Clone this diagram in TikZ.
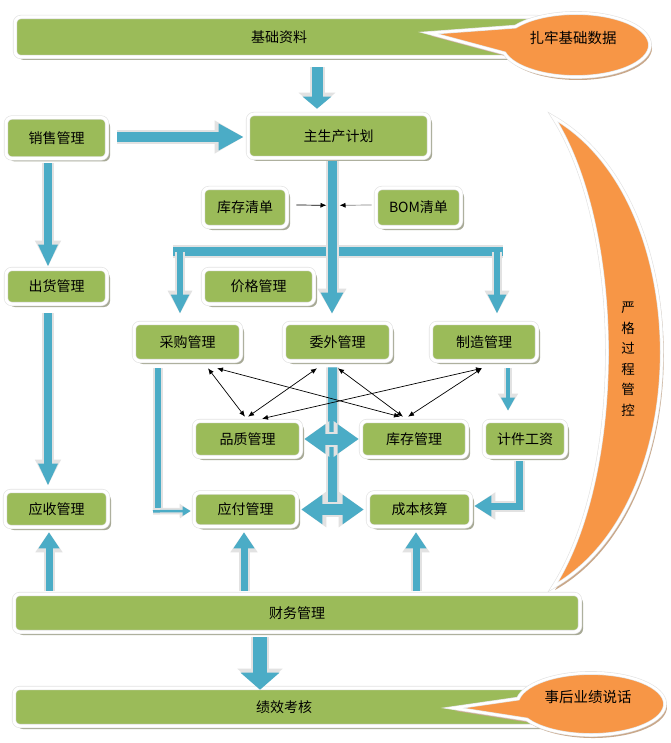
\documentclass[tikz,border=0pt]{standalone}
\usepackage{fontspec}
\newfontfamily\cjk{Noto Sans CJK SC}
\usetikzlibrary{arrows.meta,shadows,calc}
\definecolor{boxgreen}{HTML}{9BBB59}
\definecolor{arrblue}{HTML}{4BACC6}
\definecolor{bubor}{HTML}{F79646}
\definecolor{edgegray}{HTML}{E2E2E2}
\definecolor{boxshadow}{HTML}{A7A995}
\definecolor{tanshadow}{HTML}{C9A88A}
\tikzset{
  box/.style={rounded corners=6pt, fill=boxgreen, draw=edgegray, double=white, double distance=3pt, line width=0.6pt, inner sep=0pt, font=\cjk\fontsize{14}{16}\selectfont, text=black, drop shadow={shadow xshift=3pt, shadow yshift=-3pt, fill=boxshadow, opacity=1}},
  bubble/.style={fill=bubor, draw=edgegray, double=white, double distance=2.5pt, line width=0.6pt, drop shadow={shadow xshift=2pt, shadow yshift=-3pt, fill=tanshadow, opacity=1}},
  btext/.style={font=\cjk\fontsize{14.5}{16}\selectfont, text=black, inner sep=0pt},
  barr/.style n args={5}{draw=arrblue, line width=#1, -{Triangle[width=#2, length=#3]}, preaction={draw=edgegray, line width=#1+4pt, -{Triangle[width=#4, length=#5]}}},
  dbarr/.style n args={5}{draw=arrblue, line width=#1, {Triangle[width=#2, length=#3]}-{Triangle[width=#2, length=#3]}, preaction={draw=edgegray, line width=#1+4pt, {Triangle[width=#4, length=#5]}-{Triangle[width=#4, length=#5]}}},
  bbar/.style={draw=arrblue, line width=#1, preaction={draw=edgegray, line width=#1+4pt}},
  dblthin/.style={draw=black, line width=0.7pt, {Latex[length=6pt,width=5pt]}-{Latex[length=6pt,width=5pt]}},
  sarr/.style={line width=0.7pt, -{Latex[length=6pt,width=5pt,color=black]}},
}
\begin{document}
\begin{tikzpicture}[x=1pt,y=-1pt]
\fill[white] (0,0) rectangle (670,743);
\useasboundingbox (0,0) rectangle (670,743);

% crescent
\path[bubble] (553,117) .. controls (698,200) and (698,505) .. (553,587) .. controls (625,475) and (625,230) .. (553,117) -- cycle;
\node[font=\cjk\fontsize{13.5}{20.5}\selectfont, align=center, inner sep=0pt] (ctl) at (628,359) {严\\格\\过\\程\\管\\控};

% boxes
\node[box, minimum width=528pt, minimum height=40pt] (jc) at (279,37) {基础资料};
\node[box, minimum width=181pt, minimum height=44pt] (zs) at (338.5,136) {主生产计划\hspace{35pt}};
\node[box, minimum width=101pt, minimum height=41pt] (xs) at (56.5,138) {销售管理\hspace{25pt}};
\node[box, minimum width=101pt, minimum height=35pt] (ch) at (56.5,286.5) {出货管理};
\node[box, minimum width=103pt, minimum height=36pt] (ys) at (56.5,509) {应收管理};
\node[box, minimum width=84pt, minimum height=39pt] (kcqd) at (245,207.5) {库存清单};
\node[box, minimum width=85pt, minimum height=39pt] (bom) at (418.5,207.5) {BOM清单};
\node[box, minimum width=111pt, minimum height=35pt] (jg) at (258.5,286.5) {价格管理};
\node[box, minimum width=107pt, minimum height=38pt] (cg) at (187.5,342) {采购管理};
\node[box, minimum width=107pt, minimum height=38pt] (ww) at (337.5,342) {委外管理};
\node[box, minimum width=106pt, minimum height=38pt] (zz) at (484,342) {制造管理};
\node[box, minimum width=107pt, minimum height=36pt] (pz) at (247.5,439) {品质管理};
\node[box, minimum width=106pt, minimum height=36pt] (kc) at (414,439) {库存管理};
\node[box, minimum width=82pt, minimum height=36pt] (jj) at (525,439) {计件工资};
\node[box, minimum width=103pt, minimum height=34pt] (yf) at (245.5,509.5) {应付管理};
\node[box, minimum width=103pt, minimum height=34pt] (cb) at (419.5,509.5) {成本核算};
\node[box, minimum width=566pt, minimum height=38pt] (cw) at (297,613) {财务管理\hspace{54pt}};
\node[box, minimum width=540pt, minimum height=38pt] (jx) at (284,707) {绩效考核\hspace{28pt}};

% callouts
\path[bubble] (576,45) ++(215:74 and 32) arc[start angle=215, end angle=525, x radius=74, y radius=32] -- (429,33) -- cycle;
\node[btext] (b1) at (573,38) {扎牢基础数据};
\path[bubble] (591,704) ++(190:74 and 31) arc[start angle=190, end angle=510, x radius=74, y radius=31] -- (453,708) -- cycle;
\node[btext] (b2) at (588,697) {事后业绩说话};

% block arrows
\draw[barr={11pt}{28pt}{12pt}{36pt}{16pt}] ($(jc.south)+(38,10)$) -- ($(zs.north)+(-21.5,-5)$);
\draw[barr={10pt}{25pt}{25pt}{31pt}{29pt}] ($(xs.east)+(10,-1)$) -- ($(zs.west)+(-4,1)$);
\draw[barr={8pt}{18pt}{22pt}{24pt}{26pt}] ($(xs.south)+(-8.5,4.5)$) -- ($(ch.north)+(-8.5,-2)$);
\draw[barr={8pt}{18pt}{22pt}{24pt}{26pt}] ($(ch.south)+(-8.5,9)$) -- ($(ys.north)+(-8.5,-5)$);

\coordinate (tl) at ($(cg.north)+(-7.5,-71)$);
\coordinate (tr) at ($(zz.north)+(13,-71)$);
\draw[bbar=9pt] ($(tl)+(-7,0)$) -- ($(tr)+(6,0)$);
\draw[barr={6pt}{17pt}{19pt}{23pt}{23pt}] (tl) -- ($(cg.north)+(-7.5,-9)$);
\draw[barr={6pt}{17pt}{19pt}{23pt}{23pt}] (tr) -- ($(zz.north)+(13,-9)$);
\draw[barr={9pt}{21pt}{21pt}{27pt}{25pt}] ($(zs.south)+(-6.5,3)$) -- ($(ww.north)+(-5.5,-9)$);

\coordinate (lnL) at ($(zs.south)+(-12,47)$);
\coordinate (lnR) at ($(zs.south)+(1,47)$);
\draw[sarr, draw=black] ($(kcqd.east)+(9,-2.5)$) -- (lnL);
\draw[sarr, draw=black!50] ($(bom.west)+(-4,-2.5)$) -- (lnR);

% purchase -> payable
\coordinate (cgturn) at ($(cg.south)+(-29.5,150)$);
\draw[bbar=6pt] ($(cg.south)+(-29.5,7)$) -- ($(cgturn)+(0,3)$);
\draw[barr={2.5pt}{9pt}{8pt}{14pt}{11pt}] ($(cgturn)+(-5,0)$) -- ($(yf.west)+(-3,1.5)$);

% outsourcing vertical
\draw[bbar=9pt] ($(ww.south)+(-5,6)$) -- ($(yf.east)!0.5!(cb.west)$);

% double arrows
\draw[dbarr={11pt}{28pt}{21pt}{34pt}{25pt}] ($(pz.east)+(3,0)$) -- ($(kc.west)+(-2,0)$);
\draw[dbarr={11pt}{28pt}{21pt}{34pt}{25pt}] ($(yf.east)+(4,0)$) -- ($(cb.west)+(-4,0)$);

% manufacturing -> piece wage -> cost
\draw[barr={4pt}{13pt}{13pt}{19pt}{17pt}] ($(zz.south)+(24,7)$) -- ($(jj.north)+(-17,-10)$);
\draw[barr={7pt}{20pt}{17pt}{26pt}{21pt}] ($(jj.south)+(-6,4)$) |- ($(cb.east)+(3,-3.5)$);

% finance up arrows
\draw[barr={7pt}{20pt}{16pt}{26pt}{20pt}] ($(cw.north)+(-248,-3)$) -- ($(ys.south)+(-7.5,5)$);
\draw[barr={7pt}{20pt}{16pt}{26pt}{20pt}] ($(cw.north)+(-53,-3)$) -- ($(yf.south)+(-1.5,5.5)$);
\draw[barr={7pt}{20pt}{16pt}{26pt}{20pt}] ($(cw.north)+(119,-3)$) -- ($(cb.south)+(-3.5,5.5)$);
\draw[barr={14pt}{38pt}{17pt}{44pt}{21pt}] ($(cw.south)+(-37,5)$) -- ($(jx.north)+(-24,2)$);

% thin double arrows
\draw[dblthin] ($(cg.south)+(20.5,7)$) -- ($(pz.north)+(-2.5,-4)$);
\draw[dblthin] ($(cg.south)+(29.5,7)$) -- ($(kc.north)+(-14,-4)$);
\draw[dblthin] ($(ww.south)+(-20.5,7)$) -- ($(pz.north)+(0.5,-4)$);
\draw[dblthin] ($(ww.south)+(0.5,7)$) -- ($(kc.north)+(-11,-4)$);
\draw[dblthin] ($(zz.south)+(-2,7)$) -- ($(pz.north)+(14.5,-2)$);
\draw[dblthin] ($(zz.south)+(-2,7)$) -- ($(kc.north)+(-6,-4)$);
\end{tikzpicture}
\end{document}
